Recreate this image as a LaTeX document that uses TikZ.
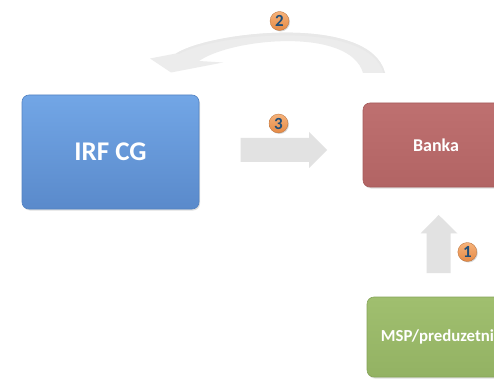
\documentclass[tikz,border=0pt]{standalone}
\usepackage{fontspec}
\setmainfont{Carlito}
\usetikzlibrary{shadows}
\definecolor{irftop}{HTML}{72A6E6}
\definecolor{irfbot}{HTML}{5A8ACB}
\definecolor{irfline}{HTML}{5483C2}
\definecolor{banktop}{HTML}{BE7070}
\definecolor{bankbot}{HTML}{B26464}
\definecolor{bankline}{HTML}{A65B5B}
\definecolor{msptop}{HTML}{A0BF6F}
\definecolor{mspbot}{HTML}{93B263}
\definecolor{mspline}{HTML}{86A45A}
\definecolor{arrgray}{HTML}{E2E2E2}
\definecolor{curvgray}{HTML}{ECECEC}
\definecolor{badgetop}{HTML}{F6B27A}
\definecolor{badgebot}{HTML}{E58A45}
\definecolor{digitblue}{HTML}{1F4E79}
\tikzset{
  box/.style={rounded corners=7pt, draw, line width=0.6pt, inner sep=0pt,
    drop shadow={opacity=0.25, shadow xshift=1pt, shadow yshift=-1.5pt},
    text=white, font=\bfseries},
  blockarrow/.style={fill=arrgray, draw=none},
  badge/.style={circle, minimum size=19pt, inner sep=0pt, draw=badgebot!80!black, line width=0.3pt,
    top color=badgetop, bottom color=badgebot,
    drop shadow={opacity=0.3, shadow xshift=1pt, shadow yshift=-1pt},
    text=digitblue, font=\fontsize{17}{17}\selectfont\bfseries}
}
\begin{document}
\begin{tikzpicture}[x=1pt, y=-1pt]
\useasboundingbox (0,0) rectangle (494,379);
\fill[white] (0,0) rectangle (494,379);
\clip (0,0) rectangle (494,379);

% boxes
\node[box, draw=irfline, top color=irftop, bottom color=irfbot,
  minimum width=177pt, minimum height=114pt,
  font=\fontsize{27}{29}\selectfont\bfseries] (irf) at (110.5,152) {IRF CG};
\node[box, draw=bankline, top color=banktop, bottom color=bankbot,
  minimum width=146pt, minimum height=84pt,
  font=\fontsize{18}{20}\selectfont\bfseries] (banka) at (436,145) {Banka};
\node[box, draw=mspline, top color=msptop, bottom color=mspbot,
  minimum width=149pt, minimum height=80pt,
  font=\fontsize{16.8}{18}\selectfont\bfseries] (msp) at (441.5,337) {MSP/preduzetnik};

% straight arrow 3 (IRF -> Banka)
\coordinate (a3s) at (240.5,150);
\coordinate (a3e) at (327,150);
\fill[blockarrow] (a3s) ++(0,-12) -- ++(68.5,0) -- ++(0,-6) -- (a3e) -- ++(-18,18) -- ++(0,-6) -- ++(-68.5,0) -- cycle;

% up arrow 1 (MSP -> Banka)
\coordinate (a1s) at (438.7,273);
\coordinate (a1e) at (438.7,215);
\fill[blockarrow] (a1s) ++(-12,0) -- ++(0,-39.7) -- ++(-6,0) -- (a1e) -- ++(18.6,18.3) -- ++(-6.6,0) -- ++(0,39.7) -- cycle;

% curved arrow 2 (Banka -> IRF)
\coordinate (a2s) at (374,73);
\coordinate (a2e) at (150,58.5);
\fill[curvgray] (a2e) -- (176,53.5) .. controls (212,31) and (370,14) .. (385,73)
  -- (363,73) .. controls (350,27) and (232,38) .. (199,61) -- (223,62.5) -- (171,72.5) -- cycle;
\fill[black!9] (176,53.5) .. controls (212,31) and (370,14) .. (385,73)
  -- (383.5,73) .. controls (368,18) and (214,34) .. (179,54) -- cycle;

% badges
\node[badge] (b2) at (279.5,21) {2};
\node[badge] (b3) at (278.5,123.5) {3};
\node[badge] (b1) at (467.3,252) {1};
\end{tikzpicture}
\end{document}
